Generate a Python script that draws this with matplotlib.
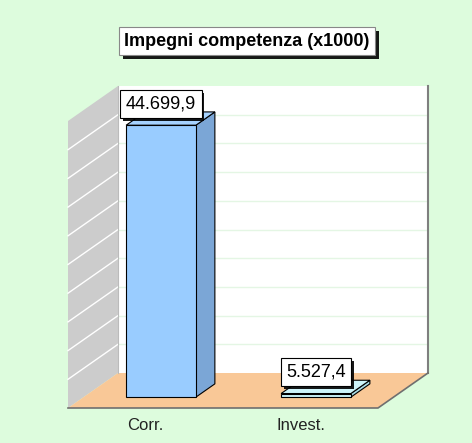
"""Pseudo-3D bar chart: Impegni competenza (x1000)."""

import matplotlib.pyplot as plt
import matplotlib.patheffects as pe
from matplotlib.patches import Polygon

# Data
categories = ["Corr.", "Invest."]
values = [44699.9, 5527.4]
value_labels = ["44.699,9", "5.527,4"]
title = "Impegni competenza (x1000)"

# Value axis (no tick labels shown in the reference)
y_min, y_max = 5000, 46900
n_grid = 10

plt.rcParams["font.family"] = ["Liberation Sans", "DejaVu Sans"]

W, H = 472, 443
fig = plt.figure(figsize=(W / 100, H / 100), dpi=100)
fig.patch.set_facecolor("#DDFCDD")

# axes = back wall of the 3D box
ax = fig.add_axes([118 / W, 1 - 373 / H, 310 / W, 287 / H])
ax.set_xlim(0, len(categories))
ax.set_ylim(y_min, y_max)
ax.axis("off")

span = y_max - y_min
DX = -50 / 155          # depth shift in category units (full depth)
DY = -35 / 287 * span   # depth shift in value units (full depth)


def proj(x, v, d):
    """Oblique projection: d=0 back wall, d=1 front edge."""
    return (x + d * DX, v + d * DY)


def poly(pts, fc, ec="none", lw=0.8, z=1):
    ax.add_patch(Polygon(pts, closed=True, facecolor=fc, edgecolor=ec,
                         linewidth=lw, zorder=z, clip_on=False))


n = len(categories)

# back wall
poly([proj(0, y_min, 0), proj(n, y_min, 0), proj(n, y_max, 0),
      proj(0, y_max, 0)], "white", z=1)
# left side wall
poly([proj(0, y_min, 1), proj(0, y_min, 0), proj(0, y_max, 0),
      proj(0, y_max, 1)], "#CCCCCC", z=1)
# floor
poly([proj(0, y_min, 1), proj(n, y_min, 1), proj(n, y_min, 0),
      proj(0, y_min, 0)], "#F9C897", z=1)

# gridlines on back wall and side wall
for k in range(1, n_grid):
    v = y_min + span * k / n_grid
    ax.plot([0, n], [v, v], color="#E4F6E4", lw=1, zorder=2, clip_on=False)
    xs, ys = zip(proj(0, v, 1), proj(0, v, 0))
    ax.plot(xs, ys, color="white", lw=1, zorder=2, clip_on=False)

# edges
xs, ys = zip(proj(n, y_max, 0), proj(n, y_min, 0))
ax.plot(xs, ys, color="#7F7F7F", lw=1.5, zorder=3, clip_on=False)
xs, ys = zip(proj(0, y_min, 0), proj(0, y_max, 0))
ax.plot(xs, ys, color="#BBBBBB", lw=0.8, zorder=3, clip_on=False)
xs, ys = zip(proj(0, y_min, 1), proj(n, y_min, 1), proj(n, y_min, 0))
ax.plot(xs, ys, color="#6F6F6F", lw=1.2, zorder=3, clip_on=False)

# bars
bar_colors = [("#99CCFF", "#7BA6D6", "#A6D2FF"),
              ("#CCF4FA", "#A9DCE6", "#CCF4FA")]
half_w = 0.225
d_front, d_back = 0.69, 0.31
for i, (v, lab) in enumerate(zip(values, value_labels)):
    c = i + 0.5
    front_c, side_c, top_c = bar_colors[i]
    l, r = c - half_w, c + half_w
    # right side face
    poly([proj(r, y_min, d_front), proj(r, y_min, d_back),
          proj(r, v, d_back), proj(r, v, d_front)], side_c, "black", z=4)
    # top face
    poly([proj(l, v, d_front), proj(r, v, d_front),
          proj(r, v, d_back), proj(l, v, d_back)], top_c, "black", z=4)
    # front face
    poly([proj(l, y_min, d_front), proj(r, y_min, d_front),
          proj(r, v, d_front), proj(l, v, d_front)], front_c, "black", z=5)

    # value label box
    t = ax.annotate(lab, xy=(proj(c, v, d_front)[0], proj(c, v, 0.5)[1]),
                    xytext=(0, 6), textcoords="offset pixels",
                    ha="center", va="bottom", fontsize=13, zorder=6,
                    bbox=dict(boxstyle="square,pad=0.3", fc="white",
                              ec="black", lw=0.8),
                    annotation_clip=False)
    t.get_bbox_patch().set_path_effects(
        [pe.SimplePatchShadow(offset=(2, -2), shadow_rgbFace="black",
                              alpha=0.9), pe.Normal()])

    # category label under front edge
    ax.annotate(categories[i], xy=proj(c, y_min, 1), xytext=(0, -17),
                textcoords="offset pixels", ha="center", va="center",
                fontsize=12, color="#222222", annotation_clip=False)

# title box
tt = fig.text(247 / W, 1 - 41 / H, title, ha="center", va="center",
              fontsize=13, fontweight="bold",
              bbox=dict(boxstyle="square,pad=0.3", fc="white",
                        ec="#888888", lw=0.8))
tt.get_bbox_patch().set_path_effects(
    [pe.SimplePatchShadow(offset=(3, -3), shadow_rgbFace="black",
                          alpha=0.9), pe.Normal()])

fig.savefig("out.png", dpi=100, facecolor=fig.get_facecolor())
